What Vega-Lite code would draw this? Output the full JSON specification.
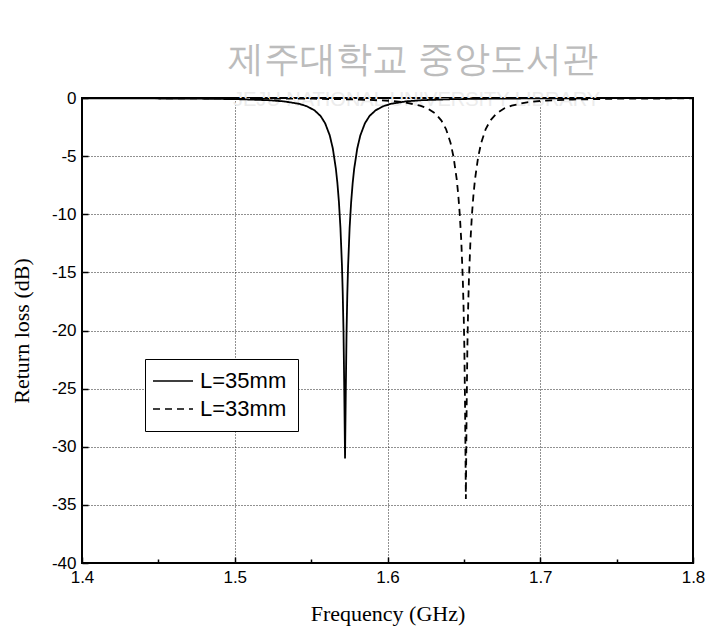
{
  "$schema": "https://vega.github.io/schema/vega-lite/v6.json",
  "width": 611,
  "height": 465,
  "autosize": {"type": "none"},
  "padding": {"left": 82, "top": 98, "right": 13, "bottom": 68},
  "background": "white",
  "config": {
    "view": {"stroke": "black", "strokeWidth": 2},
    "axis": {
      "domain": false,
      "tickColor": "black",
      "tickWidth": 1.5,
      "labelFont": "Liberation Sans",
      "labelFontSize": 17,
      "labelColor": "black",
      "titleFont": "Liberation Serif",
      "titleFontSize": 22,
      "titleFontWeight": "normal",
      "titleColor": "black",
      "gridColor": "#222222",
      "gridDash": [1, 2],
      "gridWidth": 1
    }
  },
  "layer": [
    {
      "data": {
        "values": [
          {"label": "제주대학교 중앙도서관", "f": 1.617, "db": 3.3, "kind": "ko"},
          {"label": "JEJU NATIONAL UNIVERSITY LIBRARY", "f": 1.619, "db": -0.2, "kind": "en"}
        ]
      },
      "mark": {"type": "text", "baseline": "middle", "align": "center"},
      "encoding": {
        "x": {"field": "f", "type": "quantitative"},
        "y": {"field": "db", "type": "quantitative"},
        "text": {"field": "label"},
        "font": {"field": "kind", "type": "nominal", "scale": {"domain": ["ko", "en"], "range": ["Noto Sans CJK KR", "Roboto"]}, "legend": null},
        "size": {"field": "kind", "type": "nominal", "scale": {"domain": ["ko", "en"], "range": [36, 20]}, "legend": null},
        "color": {"field": "kind", "type": "nominal", "scale": {"domain": ["ko", "en"], "range": ["#bcbcbc", "#ececec"]}, "legend": null}
      }
    },
    {
      "data": {
        "values": [
          {"series": "L=35mm", "f": 1.4, "db": -0.02},
          {"series": "L=35mm", "f": 1.4722, "db": -0.05},
          {"series": "L=35mm", "f": 1.5022, "db": -0.1},
          {"series": "L=35mm", "f": 1.5222, "db": -0.19},
          {"series": "L=35mm", "f": 1.5322, "db": -0.29},
          {"series": "L=35mm", "f": 1.5422, "db": -0.5},
          {"series": "L=35mm", "f": 1.5472, "db": -0.71},
          {"series": "L=35mm", "f": 1.5522, "db": -1.06},
          {"series": "L=35mm", "f": 1.5562, "db": -1.55},
          {"series": "L=35mm", "f": 1.5592, "db": -2.18},
          {"series": "L=35mm", "f": 1.5622, "db": -3.22},
          {"series": "L=35mm", "f": 1.5642, "db": -4.34},
          {"series": "L=35mm", "f": 1.5662, "db": -6.08},
          {"series": "L=35mm", "f": 1.5672, "db": -7.32},
          {"series": "L=35mm", "f": 1.5682, "db": -8.95},
          {"series": "L=35mm", "f": 1.5692, "db": -11.18},
          {"series": "L=35mm", "f": 1.5702, "db": -14.46},
          {"series": "L=35mm", "f": 1.5707, "db": -16.82},
          {"series": "L=35mm", "f": 1.5712, "db": -20.1},
          {"series": "L=35mm", "f": 1.5717, "db": -25.15},
          {"series": "L=35mm", "f": 1.5722, "db": -31.0},
          {"series": "L=35mm", "f": 1.5727, "db": -25.15},
          {"series": "L=35mm", "f": 1.5732, "db": -20.1},
          {"series": "L=35mm", "f": 1.5737, "db": -16.82},
          {"series": "L=35mm", "f": 1.5742, "db": -14.46},
          {"series": "L=35mm", "f": 1.5752, "db": -11.18},
          {"series": "L=35mm", "f": 1.5762, "db": -8.95},
          {"series": "L=35mm", "f": 1.5772, "db": -7.32},
          {"series": "L=35mm", "f": 1.5782, "db": -6.08},
          {"series": "L=35mm", "f": 1.5802, "db": -4.34},
          {"series": "L=35mm", "f": 1.5822, "db": -3.22},
          {"series": "L=35mm", "f": 1.5852, "db": -2.18},
          {"series": "L=35mm", "f": 1.5882, "db": -1.55},
          {"series": "L=35mm", "f": 1.5922, "db": -1.06},
          {"series": "L=35mm", "f": 1.5972, "db": -0.71},
          {"series": "L=35mm", "f": 1.6022, "db": -0.5},
          {"series": "L=35mm", "f": 1.6122, "db": -0.29},
          {"series": "L=35mm", "f": 1.6222, "db": -0.19},
          {"series": "L=35mm", "f": 1.6422, "db": -0.1},
          {"series": "L=35mm", "f": 1.6722, "db": -0.05},
          {"series": "L=35mm", "f": 1.7222, "db": -0.02},
          {"series": "L=35mm", "f": 1.8, "db": -0.01},
          {"series": "L=33mm", "f": 1.4, "db": -0.01},
          {"series": "L=33mm", "f": 1.5013, "db": -0.03},
          {"series": "L=33mm", "f": 1.5513, "db": -0.06},
          {"series": "L=33mm", "f": 1.5813, "db": -0.13},
          {"series": "L=33mm", "f": 1.6013, "db": -0.24},
          {"series": "L=33mm", "f": 1.6113, "db": -0.37},
          {"series": "L=33mm", "f": 1.6213, "db": -0.65},
          {"series": "L=33mm", "f": 1.6263, "db": -0.9},
          {"series": "L=33mm", "f": 1.6313, "db": -1.34},
          {"series": "L=33mm", "f": 1.6353, "db": -1.94},
          {"series": "L=33mm", "f": 1.6383, "db": -2.67},
          {"series": "L=33mm", "f": 1.6413, "db": -3.87},
          {"series": "L=33mm", "f": 1.6433, "db": -5.12},
          {"series": "L=33mm", "f": 1.6453, "db": -6.98},
          {"series": "L=33mm", "f": 1.6463, "db": -8.29},
          {"series": "L=33mm", "f": 1.6473, "db": -9.99},
          {"series": "L=33mm", "f": 1.6483, "db": -12.28},
          {"series": "L=33mm", "f": 1.6493, "db": -15.63},
          {"series": "L=33mm", "f": 1.6498, "db": -18.03},
          {"series": "L=33mm", "f": 1.6503, "db": -21.4},
          {"series": "L=33mm", "f": 1.6508, "db": -26.8},
          {"series": "L=33mm", "f": 1.6513, "db": -34.5},
          {"series": "L=33mm", "f": 1.6518, "db": -26.8},
          {"series": "L=33mm", "f": 1.6523, "db": -21.4},
          {"series": "L=33mm", "f": 1.6528, "db": -18.03},
          {"series": "L=33mm", "f": 1.6533, "db": -15.63},
          {"series": "L=33mm", "f": 1.6543, "db": -12.28},
          {"series": "L=33mm", "f": 1.6553, "db": -9.99},
          {"series": "L=33mm", "f": 1.6563, "db": -8.29},
          {"series": "L=33mm", "f": 1.6573, "db": -6.98},
          {"series": "L=33mm", "f": 1.6593, "db": -5.12},
          {"series": "L=33mm", "f": 1.6613, "db": -3.87},
          {"series": "L=33mm", "f": 1.6643, "db": -2.67},
          {"series": "L=33mm", "f": 1.6673, "db": -1.94},
          {"series": "L=33mm", "f": 1.6713, "db": -1.34},
          {"series": "L=33mm", "f": 1.6763, "db": -0.9},
          {"series": "L=33mm", "f": 1.6813, "db": -0.65},
          {"series": "L=33mm", "f": 1.6913, "db": -0.37},
          {"series": "L=33mm", "f": 1.7013, "db": -0.24},
          {"series": "L=33mm", "f": 1.7213, "db": -0.13},
          {"series": "L=33mm", "f": 1.7513, "db": -0.06},
          {"series": "L=33mm", "f": 1.8, "db": -0.03}
        ]
      },
      "mark": {"type": "line", "color": "black", "strokeWidth": 1.8, "clip": true},
      "encoding": {
        "x": {
          "field": "f",
          "type": "quantitative",
          "scale": {"domain": [1.4, 1.8], "nice": false, "zero": false},
          "axis": {
            "title": "Frequency (GHz)",
            "values": [1.4, 1.45, 1.5, 1.55, 1.6, 1.65, 1.7, 1.75, 1.8],
            "labelExpr": "round(datum.value * 100) % 10 === 0 ? '' + datum.value : ''",
            "tickSize": {"condition": {"test": "round(datum.value * 100) % 10 === 0", "value": -6}, "value": -4},
            "gridOpacity": {"condition": {"test": "round(datum.value * 100) % 10 === 0 && datum.value > 1.41 && datum.value < 1.79", "value": 1}, "value": 0},
            "labelPadding": 12,
            "labelFlush": false,
            "labelOverlap": false,
            "titlePadding": 16
          }
        },
        "y": {
          "field": "db",
          "type": "quantitative",
          "scale": {"domain": [-40, 0], "nice": false, "zero": false},
          "axis": {
            "title": "Return loss (dB)",
            "values": [-40, -37.5, -35, -32.5, -30, -27.5, -25, -22.5, -20, -17.5, -15, -12.5, -10, -7.5, -5, -2.5, 0],
            "labelExpr": "datum.value % 5 === 0 ? '' + datum.value : ''",
            "tickSize": {"condition": {"test": "datum.value % 5 === 0", "value": -6}, "value": -4},
            "gridOpacity": {"condition": {"test": "datum.value % 5 === 0 && datum.value > -39 && datum.value < -1", "value": 1}, "value": 0},
            "labelPadding": 12,
            "labelFlush": false,
            "labelOverlap": false,
            "titlePadding": 18
          }
        },
        "strokeDash": {
          "field": "series",
          "type": "nominal",
          "scale": {"domain": ["L=35mm", "L=33mm"], "range": [[1, 0], [7, 5]]},
          "legend": {
            "title": null,
            "orient": "none",
            "legendX": 63,
            "legendY": 261,
            "strokeColor": "black",
            "fillColor": "white",
            "padding": 11,
            "symbolType": "M-1.4,0H2.6",
            "symbolSize": 400,
            "symbolStrokeWidth": 1.5,
            "symbolStrokeColor": "black",
            "symbolFillColor": "transparent",
            "labelOffset": 22,
            "labelFont": "Liberation Sans",
            "labelFontSize": 22,
            "labelColor": "black",
            "rowPadding": 6
          }
        }
      }
    }
  ]
}
